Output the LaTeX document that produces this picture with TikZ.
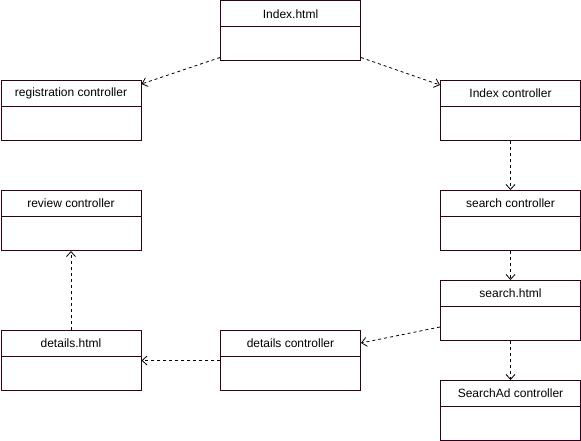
\documentclass[tikz,border=0pt]{standalone}
\usepackage{fontspec}
\setmainfont{Liberation Sans}
\usetikzlibrary{arrows.meta}
\definecolor{boxline}{RGB}{51,0,26}
\tikzset{
  classbox/.style={draw=boxline, line width=1pt, fill=white, minimum width=140pt, minimum height=60pt, inner sep=0pt, anchor=north west},
  classhdr/.style={draw=boxline, line width=1pt, minimum width=140pt, minimum height=26pt, inner sep=0pt, anchor=north west, font=\fontsize{12}{14}\selectfont},
  dep/.style={draw=black, line width=0.8pt, dash pattern=on 3pt off 3pt, -{Straight Barb[length=5pt,width=9pt]}}
}
\newcommand\umlclass[4]{%
  \node[classbox] (#1) at (#2,#3) {};
  \node[classhdr] (#1h) at (#2,#3) {#4};
}
\begin{document}
\begin{tikzpicture}[x=1pt,y=-1pt]
\useasboundingbox (0,0) rectangle (581,441);
\umlclass{idx}{220}{0.5}{Index.html}
\umlclass{reg}{0.5}{80}{registration controller}
\umlclass{ictl}{440}{80}{Index controller}
\umlclass{rev}{0.5}{190}{review controller}
\umlclass{sctl}{440}{190}{search controller}
\umlclass{shtml}{440}{280}{search.html}
\umlclass{dhtml}{0.5}{330}{details.html}
\umlclass{dctl}{220}{330}{details controller}
\umlclass{sad}{440}{380}{SearchAd controller}
\draw[dep] ([yshift=4pt]idx.south west) -- ([yshift=-4pt]reg.north east);
\draw[dep] ([yshift=4pt]idx.south east) -- ([yshift=-5pt]ictl.north west);
\draw[dep] (ictl.south) -- (sctl.north);
\draw[dep] (sctl.south) -- (shtml.north);
\draw[dep] (shtml.south) -- (sad.north);
\draw[dep] ([yshift=14pt]shtml.south west) -- ([yshift=-13pt]dctl.north east);
\draw[dep] (dctl.west) -- (dhtml.east);
\draw[dep] (dhtml.north) -- (rev.south);
\end{tikzpicture}
\end{document}
